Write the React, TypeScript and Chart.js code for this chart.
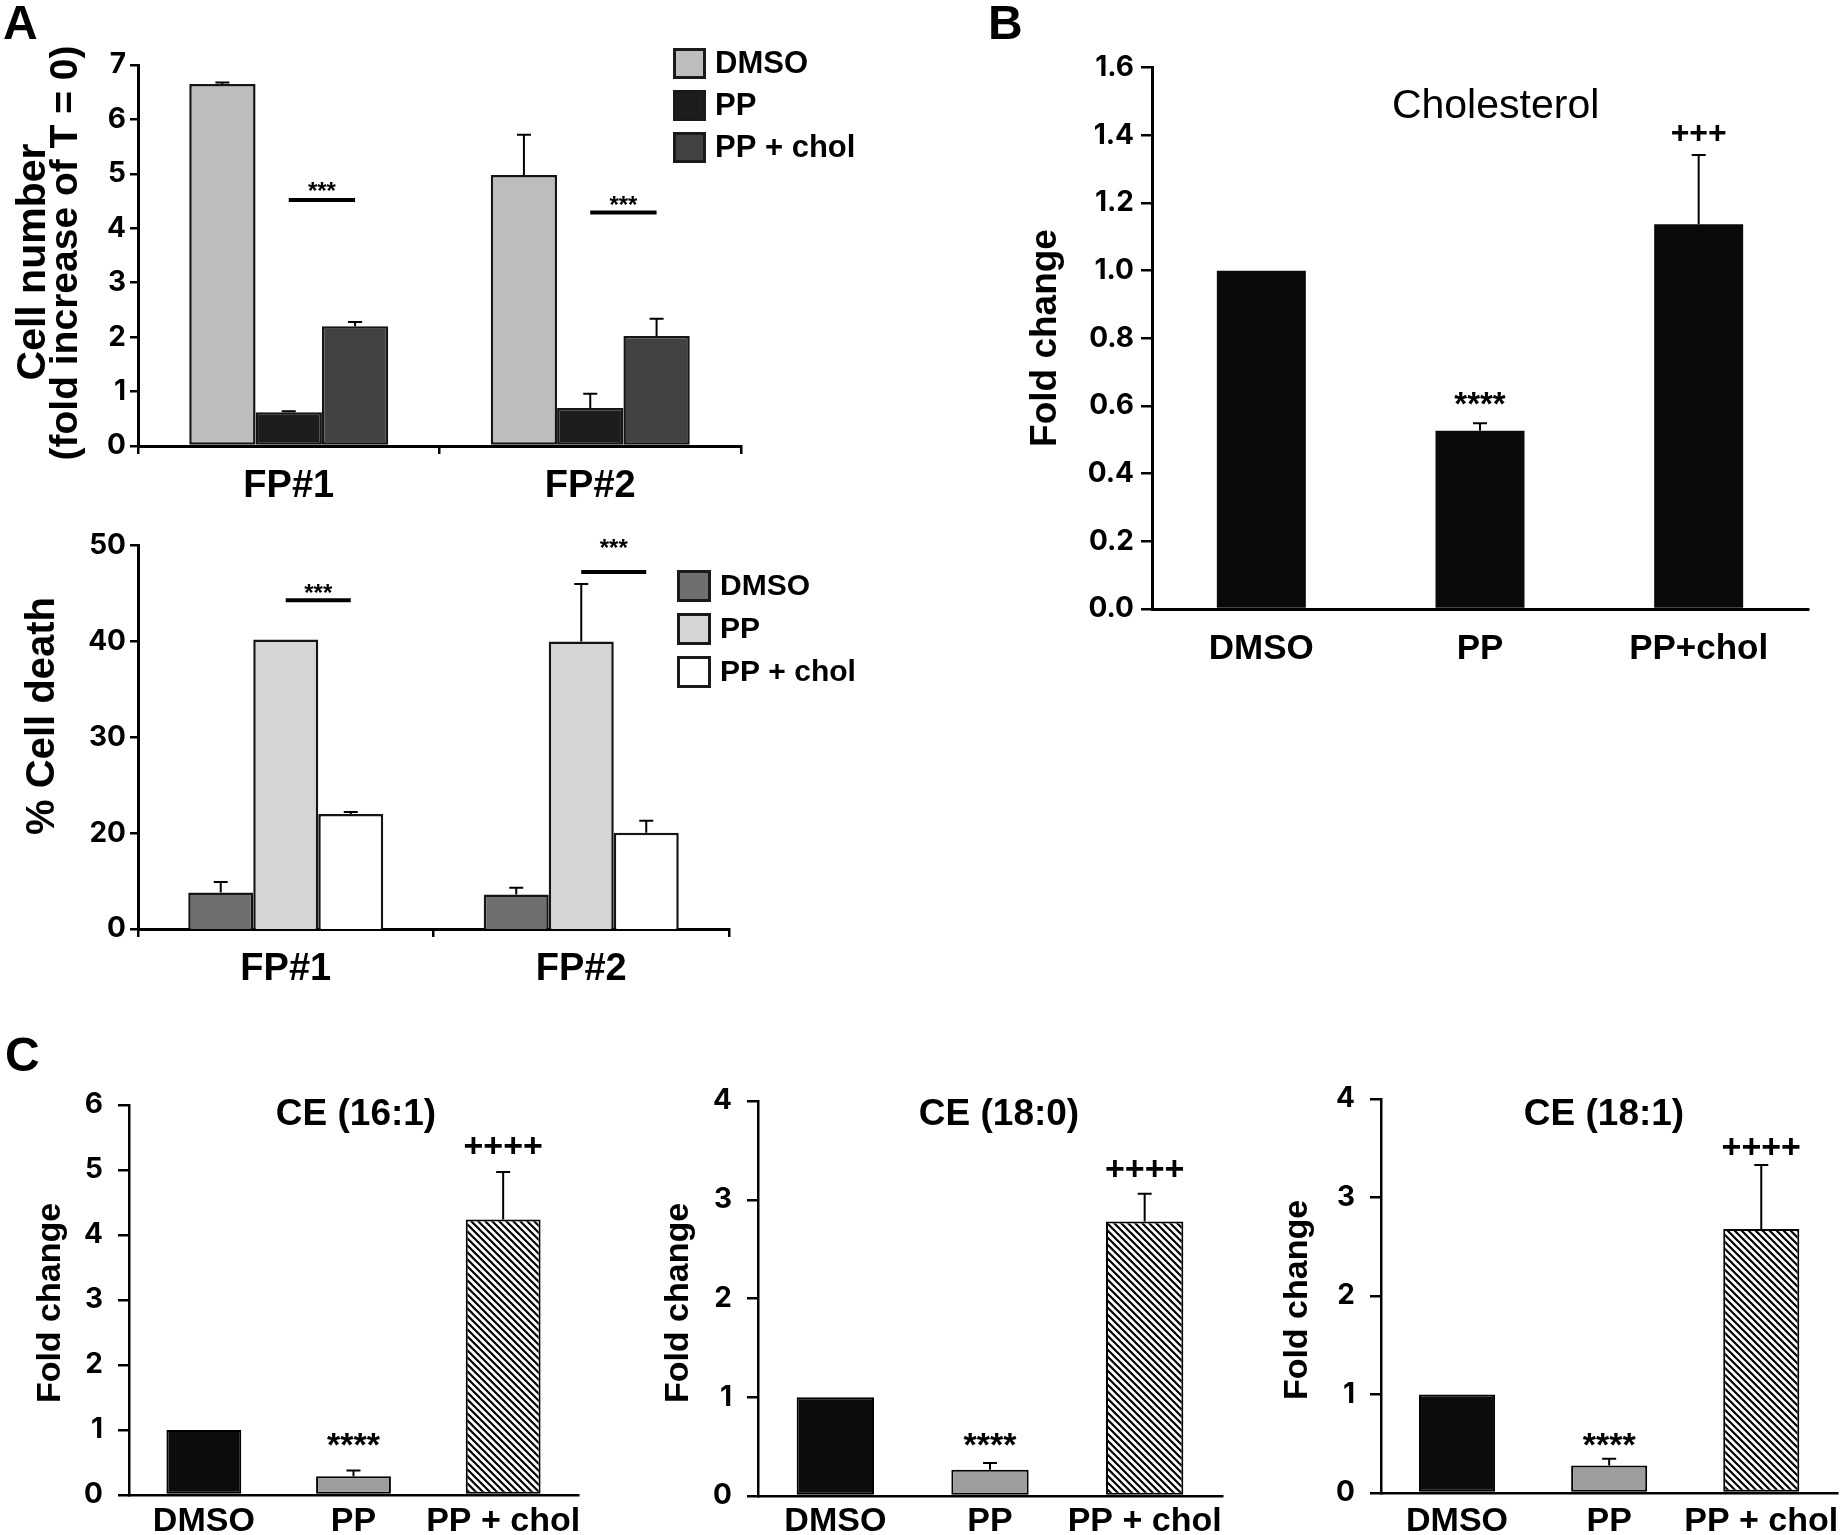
import React, { useEffect, useRef } from 'react';
import { Chart, registerables } from 'chart.js';

Chart.register(...registerables);

// ---------------- data ----------------
// Panel A (top): cell number
const A_GROUPS = ['FP#1', 'FP#2'];
const A_SERIES = ['DMSO', 'PP', 'PP + chol'];
const A_CELL_DMSO = [6.65, 4.98];
const A_CELL_PP = [0.62, 0.7];
const A_CELL_PPCHOL = [2.2, 2.02];
const A_CELL_DMSO_ERR = [0.03, 0.74];
const A_CELL_PP_ERR = [0.02, 0.26];
const A_CELL_PPCHOL_ERR = [0.08, 0.32];
const A_CELL_TICKS = [0, 1, 2, 3, 4, 5, 6, 7];

// Panel A (bottom): % cell death (axis as printed: 0, 20, 30, 40, 50)
const A_DEATH_DMSO = [13.8, 13.6];
const A_DEATH_PP = [40.2, 40.0];
const A_DEATH_PPCHOL = [22.0, 20.05];
const A_DEATH_DMSO_ERR = [1.1, 0.7];
const A_DEATH_PP_ERR = [0, 6.0];
const A_DEATH_PPCHOL_ERR = [0.2, 1.25];
const A_DEATH_TICKS = [10, 20, 30, 40, 50];
const A_DEATH_TICK_LABELS = ['0', '20', '30', '40', '50'];

// Panel B: cholesterol
const B_GROUPS = ['DMSO', 'PP', 'PP+chol'];
const B_CHOL = [1.0, 0.527, 1.137];
const B_CHOL_ERR = [0, 0.022, 0.205];
const B_TICKS = [0, 0.2, 0.4, 0.6, 0.8, 1.0, 1.2, 1.4, 1.6];

// Panel C: cholesteryl esters
const C_GROUPS = ['DMSO', 'PP', 'PP + chol'];
const C_TITLES = ['CE (16:1)', 'CE (18:0)', 'CE (18:1)'];
const CE161 = [1.0, 0.29, 4.24];
const CE161_ERR = [0, 0.086, 0.73];
const CE180 = [1.0, 0.265, 2.78];
const CE180_ERR = [0, 0.068, 0.28];
const CE181 = [1.0, 0.279, 2.68];
const CE181_ERR = [0, 0.068, 0.65];
const C_TICKS_6 = [0, 1, 2, 3, 4, 5, 6];
const C_TICKS_4 = [0, 1, 2, 3, 4];

// significance annotations (value-axis heights)
const A_CELL_SIG = [
  { group: 0, at: 4.52, labelAt: 4.79 },
  { group: 1, at: 4.29, labelAt: 4.53 },
];
const A_DEATH_SIG = [
  { group: 0, at: 44.3, labelAt: 45.7 },
  { group: 1, at: 47.25, labelAt: 50.4 },
];

// ---------------- styling ----------------
const SANS = '"Liberation Sans", Arial, sans-serif';
const TICKF = 'Inter, "Liberation Sans", sans-serif';
const HALF_PI = Math.PI / 2;

type Box = { left: number; top: number; width: number; height: number };
type Area = { left: number; right: number; top: number; bottom: number };
type TextItem = { text: string; x: number; y: number; font: string; align?: CanvasTextAlign; rotate?: number };
type BarMark = { dataset: number; index: number; at: number; text: string; size: number; mid: number };
type SigLine = { group: number; at: number; labelAt: number };
type LegendSpec = { x: number; tops: number[]; w: number; h: number; textX: number; font: string };

interface PanelSpec {
  box: Box;
  area: Area;
  labels: string[];
  datasets: any[];
  errors: number[][];
  yTicks: number[];
  yTickLabels?: string[];
  yDecimals?: number;
  yTickFont: number;
  yTickLen: number;
  yTickPad: number;
  xFont: number;
  xPad: number;
  xTicks: boolean;
  axisWidth: number;
  catPct: number;
  barPct: number;
  texts: TextItem[];
  barMarks: BarMark[];
  sig?: { lines: SigLine[]; font: string; size: number };
  legend?: LegendSpec;
}

function makeHatch(): CanvasPattern | string {
  const size = 7;
  const c = document.createElement('canvas');
  c.width = size;
  c.height = size;
  const g = c.getContext('2d');
  if (!g) return '#888';
  g.fillStyle = '#fff';
  g.fillRect(0, 0, size, size);
  g.strokeStyle = '#000';
  g.lineWidth = 2.2;
  g.beginPath();
  g.moveTo(-2, -2);
  g.lineTo(size + 2, size + 2);
  g.moveTo(-2, size - 2);
  g.lineTo(2, size + 2);
  g.moveTo(size - 2, -2);
  g.lineTo(size + 2, 2);
  g.stroke();
  return g.createPattern(c, 'repeat') || '#888';
}

function buildConfig(p: PanelSpec): any {
  const yw = p.area.left - p.box.left;
  const xh = p.box.top + p.box.height - p.area.bottom;
  const errorPlugin = {
    id: 'errorBars',
    afterDatasetsDraw(chart: any) {
      const ctx = chart.ctx;
      const ys = chart.scales.y;
      ctx.save();
      ctx.strokeStyle = '#000';
      ctx.lineWidth = 2;
      chart.data.datasets.forEach((ds: any, di: number) => {
        const meta = chart.getDatasetMeta(di);
        meta.data.forEach((el: any, i: number) => {
          const e = p.errors[di] ? p.errors[di][i] : 0;
          if (!e) return;
          const top = ys.getPixelForValue((ds.data[i] as number) + e);
          ctx.beginPath();
          ctx.moveTo(el.x, el.y);
          ctx.lineTo(el.x, top);
          ctx.moveTo(el.x - 7, top);
          ctx.lineTo(el.x + 7, top);
          ctx.stroke();
        });
      });
      ctx.restore();
    },
  };
  const annotPlugin = {
    id: 'annot',
    afterDraw(chart: any) {
      const ctx = chart.ctx;
      const ox = p.box.left;
      const oy = p.box.top;
      const ys = chart.scales.y;
      ctx.save();
      ctx.fillStyle = '#000';
      ctx.strokeStyle = '#000';
      for (const t of p.texts) {
        ctx.save();
        ctx.font = t.font;
        ctx.textAlign = t.align || 'center';
        ctx.textBaseline = 'alphabetic';
        ctx.translate(t.x - ox, t.y - oy);
        if (t.rotate) ctx.rotate(t.rotate);
        ctx.fillText(t.text, 0, 0);
        ctx.restore();
      }
      for (const m of p.barMarks) {
        const el = chart.getDatasetMeta(m.dataset).data[m.index];
        const cy = ys.getPixelForValue(m.at);
        ctx.font = `bold ${m.size}px ${SANS}`;
        ctx.textAlign = 'center';
        ctx.textBaseline = 'alphabetic';
        ctx.fillText(m.text, el.x, cy + m.mid * m.size);
      }
      if (p.sig) {
        for (const s of p.sig.lines) {
          const x1 = chart.getDatasetMeta(1).data[s.group].x;
          const x2 = chart.getDatasetMeta(2).data[s.group].x;
          const y = ys.getPixelForValue(s.at);
          ctx.lineWidth = 4;
          ctx.beginPath();
          ctx.moveTo(x1, y);
          ctx.lineTo(x2, y);
          ctx.stroke();
          ctx.font = p.sig.font;
          ctx.textAlign = 'center';
          ctx.textBaseline = 'alphabetic';
          ctx.fillText('***', (x1 + x2) / 2, ys.getPixelForValue(s.labelAt) + 0.575 * p.sig.size);
        }
      }
      if (p.legend) {
        const L = p.legend;
        chart.data.datasets.forEach((ds: any, i: number) => {
          const top = L.tops[i] - oy;
          ctx.fillStyle = ds.backgroundColor;
          ctx.fillRect(L.x - ox, top, L.w, L.h);
          ctx.lineWidth = 3;
          ctx.strokeStyle = '#1a1a1a';
          ctx.strokeRect(L.x - ox + 1.5, top + 1.5, L.w - 3, L.h - 3);
          ctx.fillStyle = '#000';
          ctx.font = L.font;
          ctx.textAlign = 'left';
          ctx.textBaseline = 'middle';
          ctx.fillText(ds.label, L.textX - ox, top + L.h / 2 + 1);
        });
      }
      ctx.restore();
    },
  };
  return {
    type: 'bar',
    data: {
      labels: p.labels,
      datasets: p.datasets.map((d) => ({
        ...d,
        categoryPercentage: p.catPct,
        barPercentage: p.barPct,
        borderSkipped: false,
      })),
    },
    options: {
      responsive: false,
      maintainAspectRatio: false,
      animation: false,
      events: [],
      layout: {
        padding: {
          left: 0,
          right: p.box.left + p.box.width - p.area.right,
          top: p.area.top - p.box.top,
          bottom: 0,
        },
      },
      plugins: {
        legend: { display: false },
        tooltip: { enabled: false },
        title: { display: false },
      },
      scales: {
        x: {
          type: 'category',
          offset: true,
          grid: {
            display: p.xTicks,
            offset: true,
            drawOnChartArea: false,
            drawTicks: p.xTicks,
            tickLength: 8,
            color: '#000',
            lineWidth: 2.5,
          },
          border: { display: true, color: '#000', width: p.axisWidth },
          ticks: {
            color: '#000',
            font: { family: SANS, size: p.xFont, weight: 'bold' },
            padding: p.xPad,
            maxRotation: 0,
            autoSkip: false,
          },
          afterFit: (s: any) => {
            s.height = xh;
          },
        },
        y: {
          type: 'linear',
          min: p.yTicks[0],
          max: p.yTicks[p.yTicks.length - 1],
          grid: {
            display: true,
            drawOnChartArea: false,
            drawTicks: true,
            tickLength: p.yTickLen,
            color: '#000',
            lineWidth: 2.5,
          },
          border: { display: true, color: '#000', width: p.axisWidth },
          ticks: {
            color: '#000',
            font: { family: TICKF, size: p.yTickFont, weight: 'bold' },
            padding: p.yTickPad,
            callback: (v: any) => {
              const idx = p.yTicks.findIndex((t) => Math.abs(t - Number(v)) < 1e-9);
              if (p.yTickLabels && idx >= 0) return p.yTickLabels[idx];
              return p.yDecimals ? Number(v).toFixed(p.yDecimals) : String(v);
            },
          },
          afterBuildTicks: (s: any) => {
            s.ticks = p.yTicks.map((v) => ({ value: v }));
          },
          afterFit: (s: any) => {
            s.width = yw;
          },
        },
      },
    },
    plugins: [errorPlugin, annotPlugin],
  };
}

function ChartCanvas({ box, build }: { box: Box; build: () => PanelSpec }) {
  const ref = useRef<HTMLCanvasElement>(null);
  useEffect(() => {
    if (!ref.current) return;
    const chart = new Chart(ref.current, buildConfig(build()));
    return () => chart.destroy();
  }, []);
  return (
    <canvas
      ref={ref}
      width={box.width}
      height={box.height}
      style={{ position: 'absolute', left: box.left, top: box.top, width: box.width, height: box.height }}
    />
  );
}

const BOX_A_TOP: Box = { left: 0, top: 0, width: 900, height: 505 };
const BOX_A_BOT: Box = { left: 0, top: 505, width: 900, height: 495 };
const BOX_B: Box = { left: 950, top: 0, width: 897, height: 700 };
const BOX_C1: Box = { left: 0, top: 1030, width: 620, height: 505 };
const BOX_C2: Box = { left: 620, top: 1030, width: 620, height: 505 };
const BOX_C3: Box = { left: 1240, top: 1030, width: 607, height: 505 };

const aBorder = { borderColor: '#151515', borderWidth: 2.5 };

function specATop(): PanelSpec {
  return {
    box: BOX_A_TOP,
    area: { left: 138, right: 741, top: 65, bottom: 446 },
    labels: A_GROUPS,
    datasets: [
      { label: A_SERIES[0], data: A_CELL_DMSO, backgroundColor: '#bdbdbd', ...aBorder },
      { label: A_SERIES[1], data: A_CELL_PP, backgroundColor: '#1d1d1d', ...aBorder },
      { label: A_SERIES[2], data: A_CELL_PPCHOL, backgroundColor: '#424242', ...aBorder },
    ],
    errors: [A_CELL_DMSO_ERR, A_CELL_PP_ERR, A_CELL_PPCHOL_ERR],
    yTicks: A_CELL_TICKS,
    yTickFont: 28,
    yTickLen: 8,
    yTickPad: 4,
    xFont: 38,
    xPad: 10,
    xTicks: true,
    axisWidth: 3,
    catPct: 0.66,
    barPct: 1,
    texts: [
      { text: 'A', x: 3, y: 39, font: `bold 48px ${SANS}`, align: 'left' },
      { text: 'Cell number', x: 45, y: 262, font: `bold 41px ${SANS}`, rotate: -HALF_PI },
      { text: '(fold increase of T = 0)', x: 77, y: 253, font: `bold 39px ${SANS}`, rotate: -HALF_PI },
    ],
    barMarks: [],
    sig: { lines: A_CELL_SIG, font: `bold 24px ${SANS}`, size: 24 },
    legend: { x: 673, tops: [48, 90, 132], w: 33, h: 31, textX: 715, font: `bold 31px ${SANS}` },
  };
}

function specABot(): PanelSpec {
  return {
    box: BOX_A_BOT,
    area: { left: 138, right: 729, top: 545.7, bottom: 929 },
    labels: A_GROUPS,
    datasets: [
      { label: A_SERIES[0], data: A_DEATH_DMSO, backgroundColor: '#6f6f6f', ...aBorder },
      { label: A_SERIES[1], data: A_DEATH_PP, backgroundColor: '#d5d5d5', ...aBorder },
      { label: A_SERIES[2], data: A_DEATH_PPCHOL, backgroundColor: '#ffffff', ...aBorder },
    ],
    errors: [A_DEATH_DMSO_ERR, A_DEATH_PP_ERR, A_DEATH_PPCHOL_ERR],
    yTicks: A_DEATH_TICKS,
    yTickLabels: A_DEATH_TICK_LABELS,
    yTickFont: 28,
    yTickLen: 8,
    yTickPad: 4,
    xFont: 38,
    xPad: 10,
    xTicks: true,
    axisWidth: 3,
    catPct: 0.66,
    barPct: 1,
    texts: [{ text: '% Cell death', x: 54, y: 716, font: `bold 40px ${SANS}`, rotate: -HALF_PI }],
    barMarks: [],
    sig: { lines: A_DEATH_SIG, font: `bold 24px ${SANS}`, size: 24 },
    legend: { x: 677, tops: [570, 613, 656], w: 34, h: 32, textX: 720, font: `bold 30px ${SANS}` },
  };
}

function specB(): PanelSpec {
  return {
    box: BOX_B,
    area: { left: 1152, right: 1808, top: 67.6, bottom: 609 },
    labels: B_GROUPS,
    datasets: [{ label: 'Cholesterol', data: B_CHOL, backgroundColor: '#0a0a0a', borderColor: '#0a0a0a', borderWidth: 0 }],
    errors: [B_CHOL_ERR],
    yTicks: B_TICKS,
    yDecimals: 1,
    yTickFont: 28,
    yTickLen: 11,
    yTickPad: 7,
    xFont: 35,
    xPad: 19,
    xTicks: false,
    axisWidth: 3,
    catPct: 1,
    barPct: 0.407,
    texts: [
      { text: 'B', x: 988, y: 39, font: `bold 48px ${SANS}`, align: 'left' },
      { text: 'Fold change', x: 1056, y: 338, font: `bold 37px ${SANS}`, rotate: -HALF_PI },
      { text: 'Cholesterol', x: 1495.6, y: 118.3, font: `41px ${SANS}` },
    ],
    barMarks: [
      { dataset: 0, index: 1, at: 0.629, text: '****', size: 33, mid: 0.575 },
      { dataset: 0, index: 2, at: 1.41, text: '+++', size: 32, mid: 0.355 },
    ],
  };
}

function specC(
  box: Box,
  area: Area,
  values: number[],
  errs: number[],
  ticks: number[],
  title: string,
  titleX: number,
  ylabX: number,
  ylabY: number,
  starAt: number,
  plusAt: number,
  xPad: number,
  withLetter: boolean
): PanelSpec {
  const texts: TextItem[] = [
    { text: 'Fold change', x: ylabX, y: ylabY, font: `bold 34px ${SANS}`, rotate: -HALF_PI },
    { text: title, x: titleX, y: 1125, font: `bold 37px ${SANS}` },
  ];
  if (withLetter) texts.push({ text: 'C', x: 5, y: 1071, font: `bold 48px ${SANS}`, align: 'left' });
  return {
    box,
    area,
    labels: C_GROUPS,
    datasets: [
      {
        label: title,
        data: values,
        backgroundColor: ['#0c0c0c', '#9d9d9d', makeHatch()],
        borderColor: '#000',
        borderWidth: 2,
      },
    ],
    errors: [errs],
    yTicks: ticks,
    yTickFont: 28,
    yTickLen: 11,
    yTickPad: 15,
    xFont: 34,
    xPad,
    xTicks: false,
    axisWidth: 2.5,
    catPct: 1,
    barPct: 0.5,
    texts,
    barMarks: [
      { dataset: 0, index: 1, at: starAt, text: '****', size: 34, mid: 0.575 },
      { dataset: 0, index: 2, at: plusAt, text: '++++', size: 34, mid: 0.355 },
    ],
  };
}

export default function App() {
  return (
    <div style={{ position: 'absolute', left: 0, top: 0, width: 1847, height: 1535, background: '#fff' }}>
      <ChartCanvas box={BOX_A_TOP} build={specATop} />
      <ChartCanvas box={BOX_A_BOT} build={specABot} />
      <ChartCanvas box={BOX_B} build={specB} />
      <ChartCanvas
        box={BOX_C1}
        build={() =>
          specC(BOX_C1, { left: 129, right: 578, top: 1105, bottom: 1495 }, CE161, CE161_ERR, C_TICKS_6, C_TITLES[0], 356, 60, 1303, 0.9, 5.39, 6.4, true)
        }
      />
      <ChartCanvas
        box={BOX_C2}
        build={() =>
          specC(BOX_C2, { left: 758, right: 1222, top: 1101, bottom: 1496 }, CE180, CE180_ERR, C_TICKS_4, C_TITLES[1], 999, 688, 1303, 0.6, 3.32, 5.4, false)
        }
      />
      <ChartCanvas
        box={BOX_C3}
        build={() =>
          specC(BOX_C3, { left: 1381, right: 1845, top: 1099, bottom: 1493 }, CE181, CE181_ERR, C_TICKS_4, C_TITLES[2], 1604, 1307, 1300, 0.57, 3.52, 8.4, false)
        }
      />
    </div>
  );
}
